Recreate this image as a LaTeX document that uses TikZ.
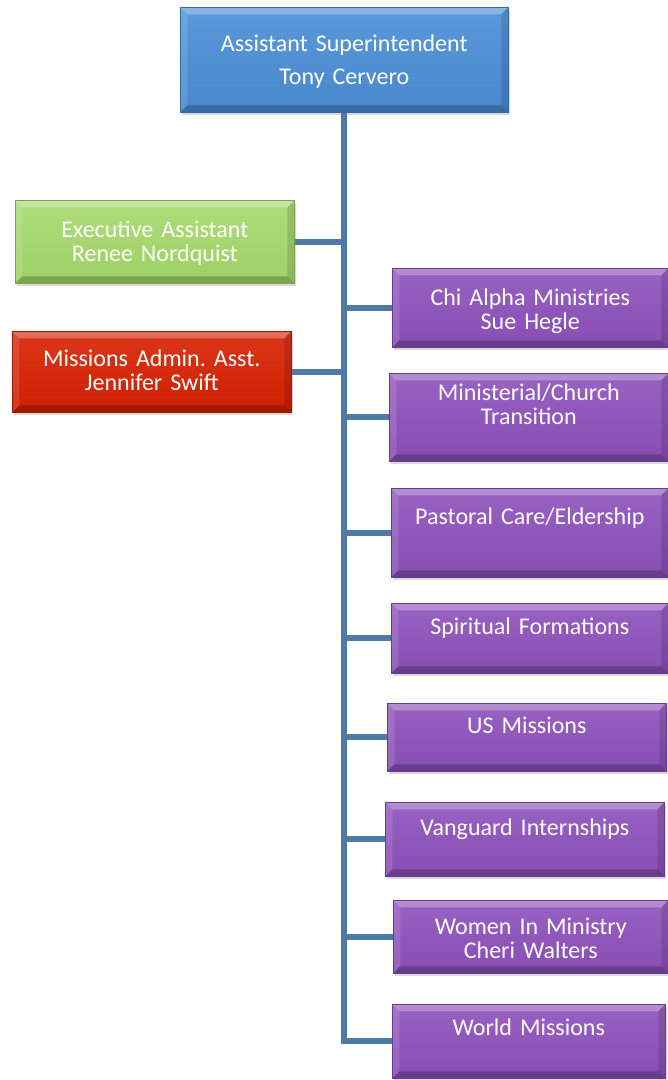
\documentclass[tikz,border=0pt]{standalone}
\usepackage{fontspec}
\setmainfont{Carlito}
\usetikzlibrary{shadows, backgrounds}

\definecolor{headblue}{RGB}{74,141,214}
\definecolor{assistgreen}{RGB}{165,217,106}
\definecolor{adminred}{RGB}{215,32,0}
\definecolor{unitpurple}{RGB}{141,80,187}
\definecolor{linkblue}{RGB}{79,122,166}

\newcommand\orgfont{\fontsize{24}{24}\selectfont\frenchspacing}
\newcommand\bevelsize{7pt}

\tikzset{
  bevel/.style={path picture={
    \coordinate (bnw) at (path picture bounding box.north west);
    \coordinate (bne) at (path picture bounding box.north east);
    \coordinate (bsw) at (path picture bounding box.south west);
    \coordinate (bse) at (path picture bounding box.south east);
    \fill[white, opacity=.28] (bnw) -- (bne) -- ([xshift=-\bevelsize, yshift=-\bevelsize]bne) -- ([xshift=\bevelsize, yshift=-\bevelsize]bnw) -- cycle;
    \fill[white, opacity=.12] (bnw) -- (bsw) -- ([xshift=\bevelsize, yshift=\bevelsize]bsw) -- ([xshift=\bevelsize, yshift=-\bevelsize]bnw) -- cycle;
    \fill[black, opacity=.22] (bsw) -- (bse) -- ([xshift=-\bevelsize, yshift=\bevelsize]bse) -- ([xshift=\bevelsize, yshift=\bevelsize]bsw) -- cycle;
    \fill[black, opacity=.12] (bne) -- (bse) -- ([xshift=-\bevelsize, yshift=\bevelsize]bse) -- ([xshift=-\bevelsize, yshift=-\bevelsize]bne) -- cycle;
  }},
  unit/.style={anchor=north west, inner sep=0pt, align=center, text=white, font=\orgfont,
    top color=#1!90!white, bottom color=#1!96!black, draw=#1!75!black, line width=.6pt,
    drop shadow={shadow xshift=1.5pt, shadow yshift=-3pt, opacity=.3}, bevel},
  link/.style={draw=linkblue, line width=6pt}
}

\begin{document}
\begin{tikzpicture}[x=1pt, y=-1pt]
  \useasboundingbox (0,0) rectangle (668,1080);
  % top
  \node[unit=headblue, text width=328pt, text height=44pt, text depth=61pt] (head) at (180,7)
    {Assistant Superintendent\\[9pt]Tony Cervero};
  % left side
  \node[unit=assistgreen, text width=279pt, text height=37pt, text depth=46pt] (exec) at (15,200)
    {Executive Assistant\\Renee Nordquist};
  \node[unit=adminred, text width=279pt, text height=35pt, text depth=46pt] (admin) at (12,331)
    {Missions Admin. Asst.\\Jennifer Swift};
  % right side
  \node[unit=unitpurple, text width=276pt, text height=37pt, text depth=42pt] (chialpha) at (392,268)
    {Chi Alpha Ministries\\Sue Hegle};
  \node[unit=unitpurple, text width=279pt, text height=27pt, text depth=61pt] (transition) at (389,373)
    {Ministerial/Church\\Transition};
  \node[unit=unitpurple, text width=277pt, text height=36pt, text depth=53pt] (pastoral) at (391,488)
    {Pastoral Care/Eldership};
  \node[unit=unitpurple, text width=277pt, text height=31pt, text depth=39pt] (spiritual) at (391,603)
    {Spiritual Formations};
  \node[unit=unitpurple, text width=279pt, text height=30pt, text depth=38pt] (usmissions) at (387,703)
    {US Missions};
  \node[unit=unitpurple, text width=279pt, text height=33pt, text depth=41pt] (vanguard) at (385,802)
    {Vanguard Internships};
  \node[unit=unitpurple, text width=275pt, text height=34pt, text depth=39pt] (women) at (393,900)
    {Women In Ministry\\Cheri Walters};
  \node[unit=unitpurple, text width=273pt, text height=31pt, text depth=43pt] (world) at (392,1004)
    {World Missions};
  % links under the boxes
  \begin{scope}[on background layer]
    \draw[link] (head.south) |- (world.west);
    \foreach \n in {exec, admin, chialpha, transition, pastoral, spiritual, usmissions, vanguard, women}
      \draw[link] (\n) -- (\n -| head.south);
  \end{scope}
\end{tikzpicture}
\end{document}
